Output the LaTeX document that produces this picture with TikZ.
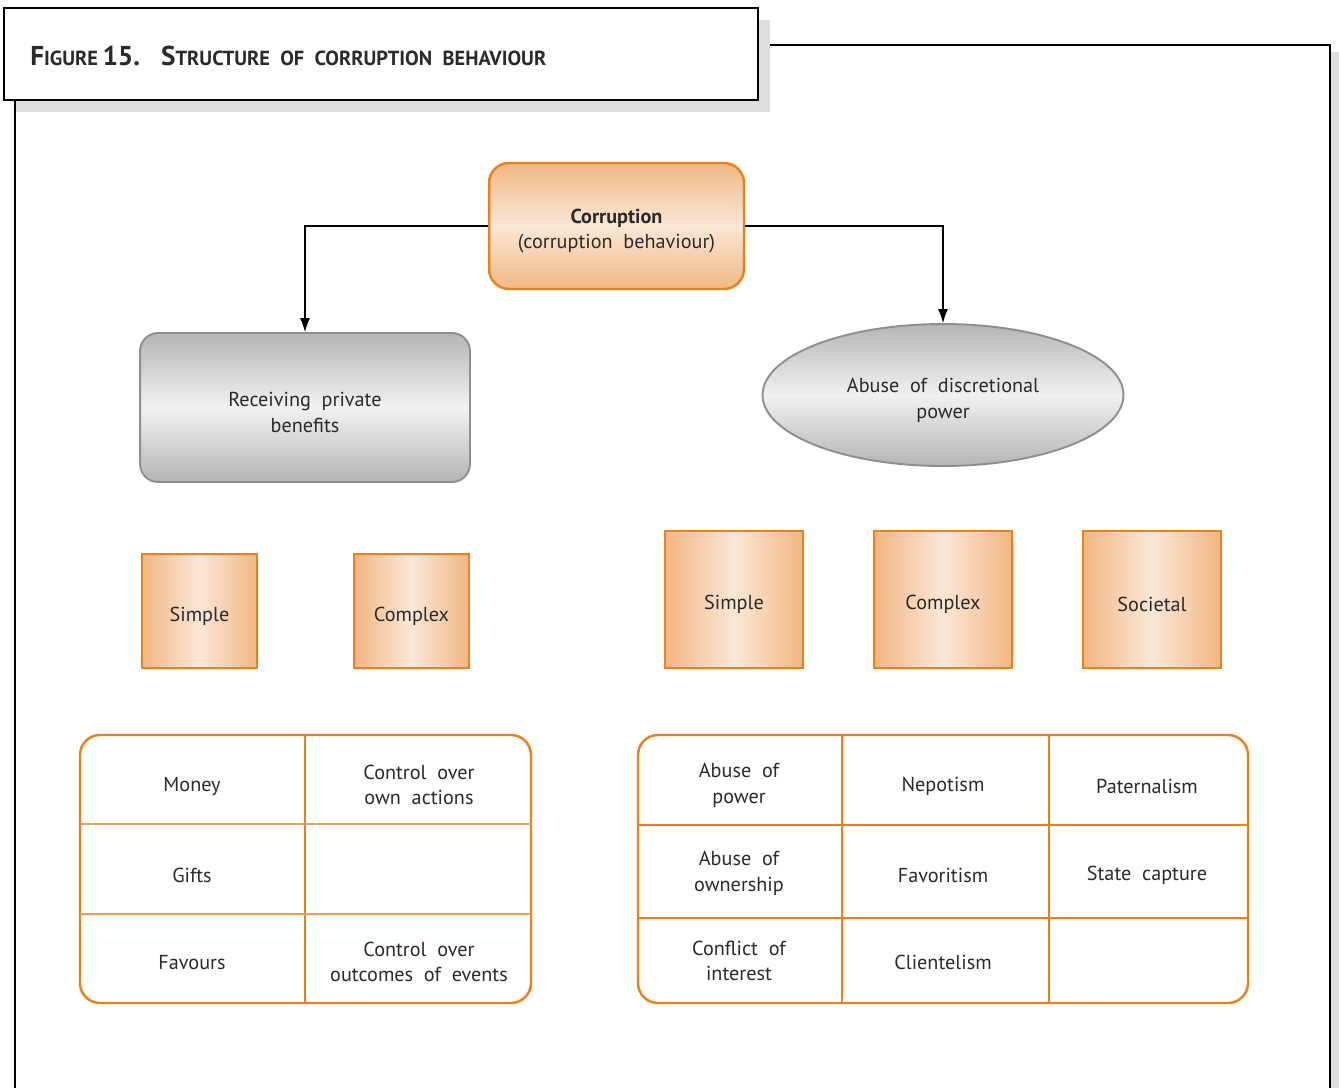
\documentclass[tikz,border=0pt]{standalone}
\usepackage{fontspec}
\setmainfont{PT Sans}
\usetikzlibrary{shapes.geometric,arrows.meta}
\definecolor{corange}{HTML}{E8821E}
\definecolor{cline}{HTML}{EE9F55}
\definecolor{cpeach}{HTML}{F1B784}
\definecolor{clight}{HTML}{FBE7D6}
\definecolor{cgreyedge}{HTML}{8E8F91}
\definecolor{cgreydark}{HTML}{B4B5B7}
\definecolor{cgreylight}{HTML}{F1F1F1}
\definecolor{cshadow}{HTML}{DCDDDF}
\definecolor{ctext}{HTML}{2A2A2A}
\newcommand\titlebig[1]{{\fontsize{15.5}{16}\selectfont #1}}
\newcommand\titlesmall[1]{{\fontsize{11.6}{12}\selectfont #1}}
\tikzset{
  txt/.style={align=center, text=ctext, font=\fontsize{11.5}{14.7}\selectfont},
  boxtext/.style={label={[txt, yshift=-0.1cm]center:#1}},
  mainbox/.style={draw=corange, line width=1.4pt, rounded corners=0.4cm,
    top color=cpeach, bottom color=cpeach, middle color=clight,
    minimum width=5.1cm, minimum height=2.52cm, inner sep=0pt},
  greybox/.style={draw=cgreyedge, line width=1.1pt, rounded corners=0.36cm,
    top color=cgreydark, bottom color=cgreydark, middle color=cgreylight,
    minimum width=6.6cm, minimum height=2.98cm, inner sep=0pt},
  greyoval/.style={ellipse, draw=cgreyedge, line width=1.1pt,
    top color=cgreydark, bottom color=cgreydark, middle color=cgreylight,
    minimum width=7.22cm, minimum height=2.84cm, inner sep=0pt},
  kindbox/.style={draw=corange, line width=1.4pt,
    left color=cpeach, right color=cpeach, middle color=clight, inner sep=0pt},
  smallkind/.style={kindbox, minimum width=2.3cm, minimum height=2.28cm},
  bigkind/.style={kindbox, minimum width=2.76cm, minimum height=2.74cm},
  tabframe/.style={draw=corange, line width=1.4pt, rounded corners=0.4cm},
  tabrule/.style={draw=cline, line width=1.2pt},
  cell/.style={txt}
}
\begin{document}
\begin{tikzpicture}[x=0.02cm, y=-0.02cm, >={Latex[length=0.28cm,width=0.2cm]}]
\useasboundingbox (0,0) rectangle (1339,1088);
% frame and title
\fill[cshadow] (23,52) rectangle (1339,1100);
\draw[line width=1.1pt, fill=white] (15,45) rectangle (1330,1100);
\fill[cshadow] (16,20) rectangle (770,112);
\draw[line width=1.1pt, fill=white] (4,8) rectangle (758,100);
\node[anchor=base west, text=ctext, font=\bfseries, inner sep=0pt] (title) at (30,66)
  {\titlebig{F}\titlesmall{IGURE} \titlebig{15.}\hspace{1.2em}\titlebig{S}\titlesmall{TRUCTURE\ \ OF\ \ CORRUPTION\ \ BEHAVIOUR}};

% top level
\node[mainbox, boxtext={\textbf{Corruption}\\(corruption\ \ behaviour)}] (corr) at (616.5,226) {};
\node[greybox, boxtext={Receiving\ \ private\\benefits}] (recv) at (305,407.5) {};
\node[greyoval, boxtext={Abuse\ \ of\ \ discretional\\power}] (abuse) at (943,395) {};
\draw[line width=0.6pt, ->] (corr.west) -| (recv.north);
\draw[line width=0.6pt, ->] (corr.east) -| (abuse.north);

% kinds
\node[smallkind, boxtext=Simple] (rsimple) at (199.5,611) {};
\node[smallkind, boxtext=Complex] (rcomplex) at (411.5,611) {};
\node[bigkind, boxtext=Simple] (asimple) at (734,599.5) {};
\node[bigkind, boxtext=Complex] (acomplex) at (943,599.5) {};
\node[bigkind, boxtext=Societal] (asocietal) at (1152,599.5) {};

% left table
\draw[tabframe] (80,735) rectangle (531,1003);
\draw[tabframe] (305,735)--(305,1003);
\foreach \y in {824,914}
{
    \draw[tabrule] (80,\y)--(531,\y);
}
\node[cell] (money) at (192,786) {Money};
\node[cell] (gifts) at (192,875) {Gifts};
\node[cell] (favours) at (192,963) {Favours};
\node[cell] (ownact) at (419,785) {Control\ \ over\\own\ \ actions};
\node[cell] (outcome) at (419,962) {Control\ \ over\\outcomes\ \ of\ \ events};

% right table
\draw[tabframe] (638,735) rectangle (1248,1003);
\foreach \x in {842,1049}
{
    \draw[tabframe] (\x,735)--(\x,1003);
}
\foreach \y in {825,918}
{
    \draw[tabframe] (638,\y)--(1248,\y);
}
\node[cell] (abpower) at (739,785) {Abuse\ \ of\\power};
\node[cell] (nepot) at (943,786) {Nepotism};
\node[cell] (patern) at (1147,786) {Paternalism};
\node[cell] (abown) at (739,873) {Abuse\ \ of\\ownership};
\node[cell] (favor) at (943,875) {Favoritism};
\node[cell] (capture) at (1147,875) {State\ \ capture};
\node[cell] (conflict) at (739,961) {Conflict\ \ of\\interest};
\node[cell] (client) at (943,962) {Clientelism};

\end{tikzpicture}
\end{document}
